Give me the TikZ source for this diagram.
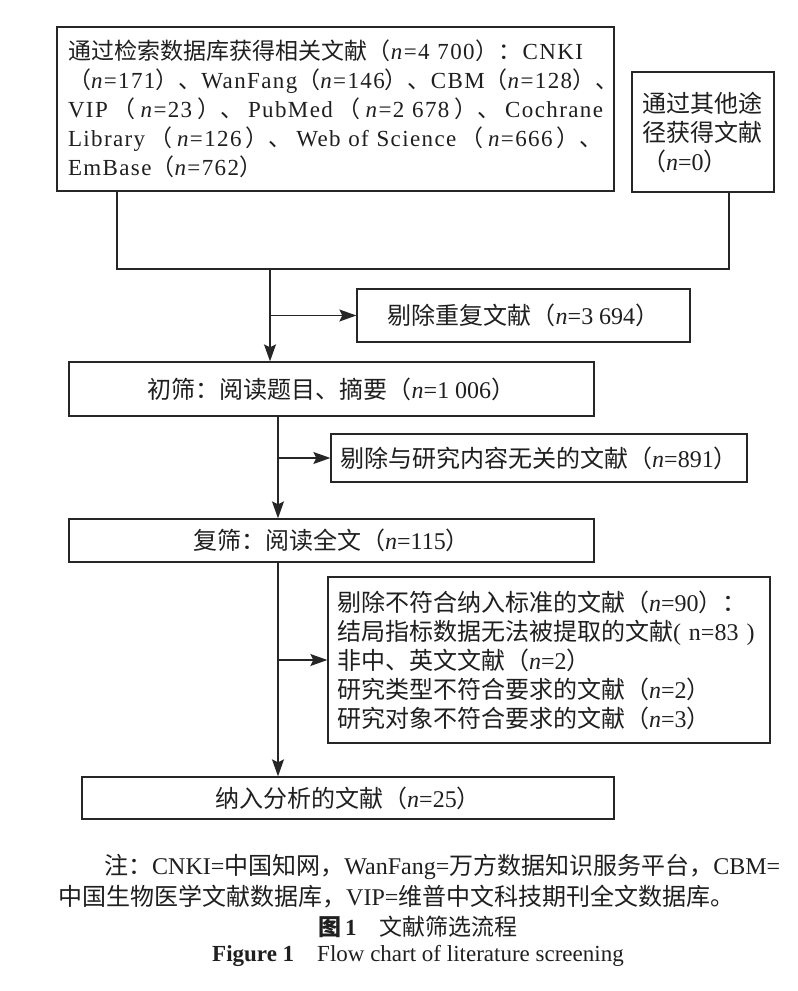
\documentclass[tikz,border=0pt]{standalone}
\usepackage{fontspec}
\setmainfont{Liberation Serif}
\newfontfamily\cjk{Noto Sans CJK SC}
\newfontfamily\widelat[LetterSpace=6]{Liberation Serif}
\usetikzlibrary{positioning,arrows.meta}
\newcommand{\zh}[1]{{\cjk #1}}
\newcommand{\nn}{\textit{n}}
\newcommand{\gap}{\hspace{0pt plus 1fil}}
\newcommand{\jline}[2][535pt]{\makebox[#1][s]{#2}}
\tikzset{
    box/.style={draw=black!85, line width=1.3pt, rectangle, inner sep=0pt,
        text=black!88, font=\fontsize{24}{29}\selectfont},
    link/.style={draw=black!85, line width=1.3pt},
    arrow/.style={link, -{Stealth[length=17pt,width=12pt,inset=3pt]}},
    note/.style={text=black!88, inner sep=0pt, font=\fontsize{24}{30}\selectfont}
}

\begin{document}
\begin{tikzpicture}[x=1pt,y=-1pt]
    \useasboundingbox (0,0) rectangle (798,991);
    \fill[white] (0,0) rectangle (798,991);
    % the two sources
    \node[box, font=\widelat\fontsize{23}{29}\selectfont, minimum width=557,
        minimum height=164, inner xsep=11pt, text width=535, align=left]
        (search) at (335.5,109)
        {\jline[515pt]{\zh{通过检索数据库获得相关文献（}\gap\nn=4 700\gap\zh{）：}\gap CNKI}\\
         \jline{\zh{（}\gap\nn=171\gap\zh{）、}\gap WanFang\gap\zh{（}\gap\nn=146\gap\zh{）、}\gap
            CBM\gap\zh{（}\gap\nn=128\gap\zh{）、}}\\
         \jline{VIP\gap\zh{（}\gap\nn=23\gap\zh{）、}\gap PubMed\gap\zh{（}\gap\nn=2 678\gap
            \zh{）、}\gap Cochrane}\\
         \jline{Library\gap\zh{（}\gap\nn=126\gap\zh{）、}\gap Web of Science\gap\zh{（}\gap
            \nn=666\gap\zh{）、}}\\
         EmBase\zh{（}\nn=762\zh{）}};
    \node[box, minimum width=142, minimum height=120, inner xsep=10pt,
        text width=122, align=left] (other) at (703,132)
        {\zh{通过其他途}\\\zh{径获得文献}\\\zh{（}\nn=0\zh{）}};
    % the screening steps
    \node[box, minimum width=333, minimum height=53] (dup) at (523.5,315.5)
        {\zh{剔除重复文献（}\nn=3 694\zh{）}};
    \node[box, minimum width=525, minimum height=54] (first) at (331.5,389)
        {\zh{初筛：阅读题目、摘要（}\nn=1 006\zh{）}};
    \node[box, minimum width=416, minimum height=48] (irr) at (539,458)
        {\zh{剔除与研究内容无关的文献（}\nn=891\zh{）}};
    \node[box, minimum width=525, minimum height=43] (second) at (331.5,540.5)
        {\zh{复筛：阅读全文（}\nn=115\zh{）}};
    \node[box, minimum width=442, minimum height=166, inner xsep=9pt,
        text width=424, align=left] (excl) at (549,660)
        {\zh{剔除不符合纳入标准的文献（}\nn=90\zh{）：}\\
         \zh{结局指标数据无法被提取的文献}( n=83 )\\
         \zh{非中、英文文献（}\nn=2\zh{）}\\
         \zh{研究类型不符合要求的文献（}\nn=2\zh{）}\\
         \zh{研究对象不符合要求的文献（}\nn=3\zh{）}};
    \node[box, minimum width=532, minimum height=42] (final) at (348,798)
        {\zh{纳入分析的文献（}\nn=25\zh{）}};
    % merge the sources and draw the arrows
    \coordinate (mL) at (117,269);
    \coordinate (mR) at (729,269);
    \coordinate (mC) at (270,269);
    \coordinate (axis) at (278,0);
    \draw[link] (search.south -| mL) -- (mL) -- (mR) -- (other.south -| mR);
    \draw[arrow] (mC) -- (mC |- first.north);
    \draw[arrow] (mC |- dup.west) -- (dup.west);
    \draw[arrow] (first.south -| axis) -- (second.north -| axis);
    \draw[arrow] (axis |- irr.west) -- (irr.west);
    \draw[arrow] (second.south -| axis) -- (final.north -| axis);
    \draw[arrow] (axis |- excl.west) -- (excl.west);
    % note and caption
    \node[note, anchor=west] (note1) at (104,867)
        {\zh{注：}CNKI=\zh{中国知网，}WanFang=\zh{万方数据知识服务平台，}CBM=};
    \node[note, anchor=west] (note2) at (58,897)
        {\zh{中国生物医学文献数据库，}VIP=\zh{维普中文科技期刊全文数据库。}};
    \node[note, font=\fontsize{23}{30}\selectfont] (capzh) at (418,927)
        {\zh{\bfseries 图}\,\textbf{1}\quad\zh{文献筛选流程}};
    \node[note, font=\fontsize{23}{30}\selectfont] (capen) at (418,956)
        {\textbf{Figure 1}\quad Flow chart of literature screening};
\end{tikzpicture}
\end{document}
